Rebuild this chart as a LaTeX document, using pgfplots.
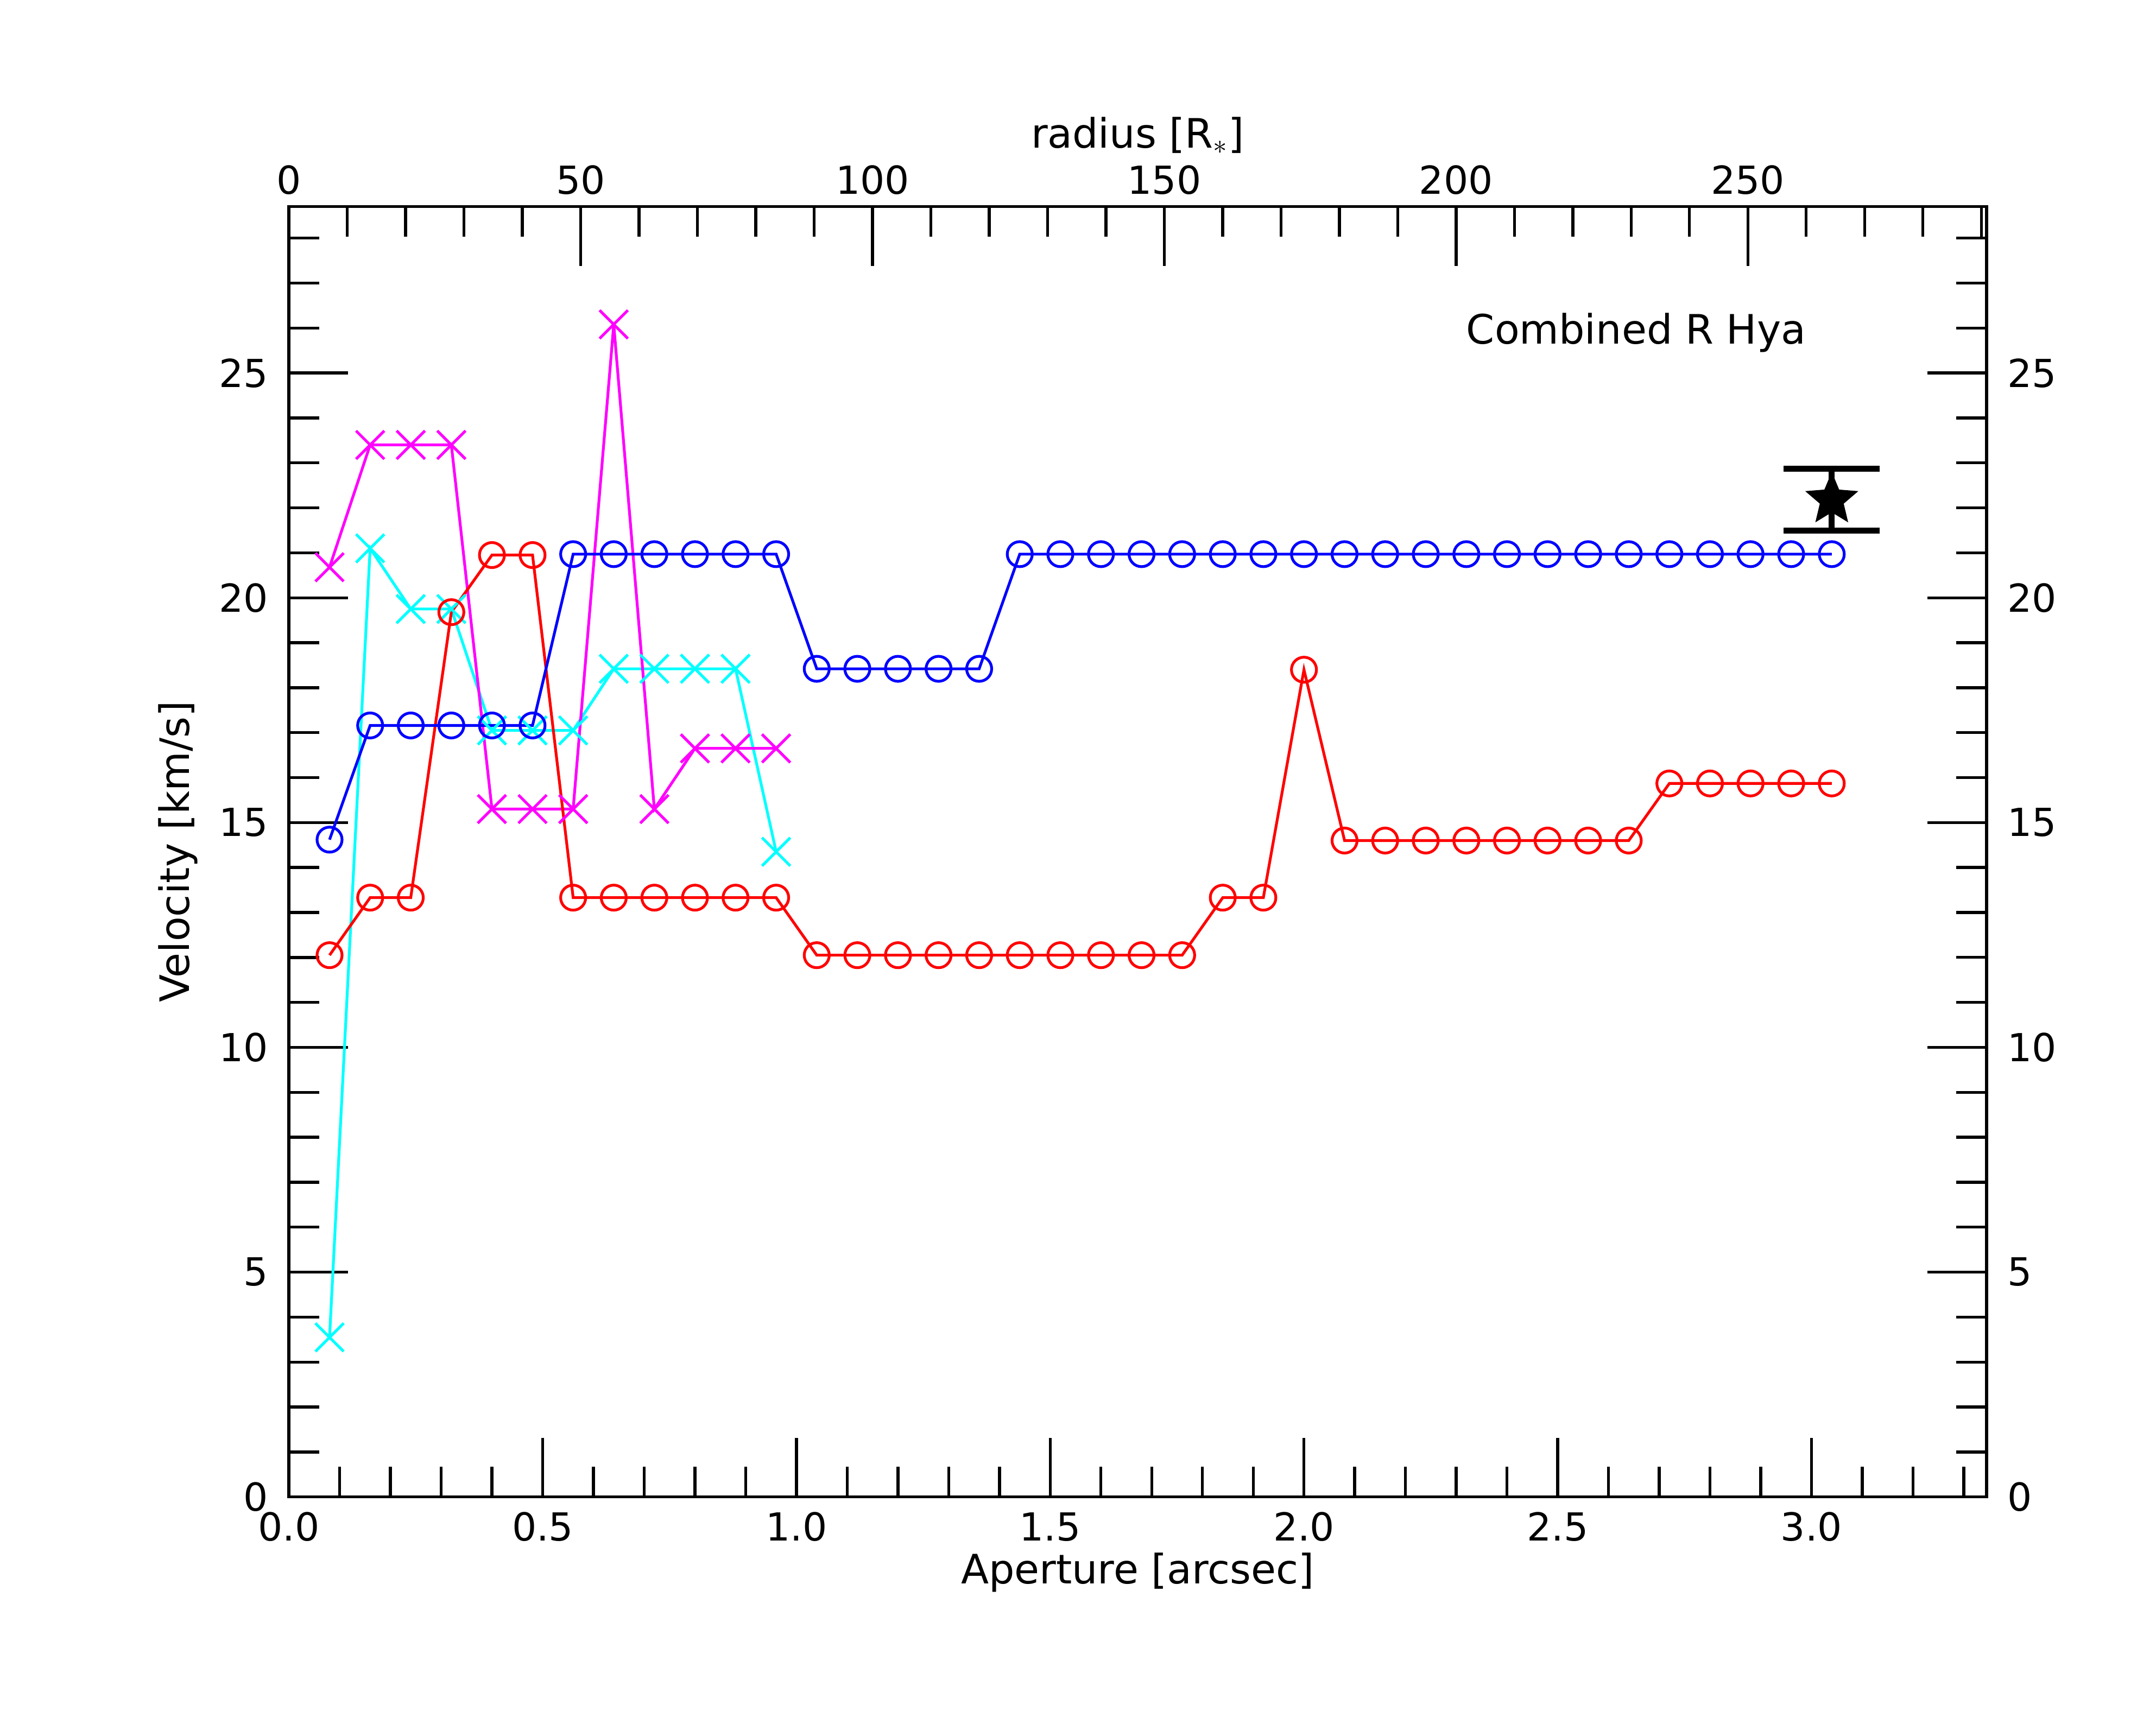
\documentclass[border=0pt]{standalone}
\usepackage{fontspec}
\setmainfont{DejaVu Sans}
\usepackage{pgfplots}
\pgfplotsset{compat=1.18}
\usetikzlibrary{plotmarks}

\definecolor{pcyan}{RGB}{0,255,255}
\definecolor{pmagenta}{RGB}{255,0,255}
\definecolor{pblue}{RGB}{0,0,255}
\definecolor{pred}{RGB}{255,0,0}

\pgfdeclareplotmark{fstar}{%
  \pgfpathmoveto{\pgfpointpolar{90}{\pgfplotmarksize}}%
  \pgfpathlineto{\pgfpointpolar{126}{0.45*\pgfplotmarksize}}%
  \pgfpathlineto{\pgfpointpolar{162}{\pgfplotmarksize}}%
  \pgfpathlineto{\pgfpointpolar{198}{0.45*\pgfplotmarksize}}%
  \pgfpathlineto{\pgfpointpolar{234}{\pgfplotmarksize}}%
  \pgfpathlineto{\pgfpointpolar{270}{0.45*\pgfplotmarksize}}%
  \pgfpathlineto{\pgfpointpolar{306}{\pgfplotmarksize}}%
  \pgfpathlineto{\pgfpointpolar{342}{0.45*\pgfplotmarksize}}%
  \pgfpathlineto{\pgfpointpolar{18}{\pgfplotmarksize}}%
  \pgfpathlineto{\pgfpointpolar{54}{0.45*\pgfplotmarksize}}%
  \pgfpathclose
  \pgfusepathqfillstroke}

\newcommand{\tickfont}{\fontsize{13.9}{16}\selectfont}
\newcommand{\labfont}{\fontsize{14.6}{17}\selectfont}

\pgfplotsset{
  common/.style={
    at={(104pt,81.6pt)}, anchor=south west,
    scale only axis, width=611pt, height=464.5pt,
    ymin=0, ymax=28.7,
    axis line style={line width=1.1pt},
    tick style={black, line width=1.05pt},
    major tick length=21.3pt, minor tick length=10.9pt,
    tick align=inside,
    /pgf/number format/assume math mode=true,
    ticklabel style={font=\tickfont},
    ytick={0,5,10,15,20,25},
    minor ytick={1,2,3,4,6,7,8,9,11,12,13,14,16,17,18,19,21,22,23,24,26,27,28},
  }
}

\begin{document}
\begin{tikzpicture}
\path[use as bounding box] (0,0) rectangle (776pt,620.5pt);

% top / right axis
\begin{axis}[common,
  xmin=0, xmax=290.9,
  xtick={0,50,100,150,200,250},
  minor xtick={10,20,30,40,60,70,80,90,110,120,130,140,160,170,180,190,210,220,230,240,260,270,280,290},
  xtick pos=right, ytick pos=right,
  xticklabel pos=right, yticklabel pos=right,
  xticklabel style={anchor=base, yshift=4.5pt},
  yticklabel style={anchor=west, xshift=4pt},
  xlabel={radius [R$_{\ast}$]},
  xlabel style={at={(axis description cs:0.5,1.0455)}, anchor=base, font=\labfont},
]
\end{axis}

% bottom / left axis with data
\begin{axis}[common,
  xmin=0, xmax=3.345,
  xtick={0,0.5,1.0,1.5,2.0,2.5,3.0},
  minor xtick={0.1,0.2,0.3,0.4,0.6,0.7,0.8,0.9,1.1,1.2,1.3,1.4,1.6,1.7,1.8,1.9,2.1,2.2,2.3,2.4,2.6,2.7,2.8,2.9,3.1,3.2,3.3},
  xtick pos=left, ytick pos=left,
  xticklabel style={anchor=base, yshift=-15.8pt, /pgf/number format/.cd, fixed, fixed zerofill, precision=1},
  yticklabel style={anchor=east, xshift=-4pt},
  xlabel={Aperture [arcsec]},
  xlabel style={at={(axis description cs:0.5,-0.0672)}, anchor=base, font=\labfont},
  ylabel={Velocity [km/s]},
  ylabel style={at={(axis description cs:-0.0586,0.5)}, anchor=base, font=\labfont},
  clip=false,
]
% cyan
\addplot[pcyan, line width=1pt, mark=x, mark size=7.2pt, mark options={line width=1pt}] coordinates {
(0.08,3.55)(0.16,21.10)(0.24,19.75)(0.32,19.75)(0.40,17.05)(0.48,17.05)(0.56,17.05)(0.64,18.42)(0.72,18.42)(0.80,18.42)(0.88,18.42)(0.96,14.35)
};
% magenta
\addplot[pmagenta, line width=1pt, mark=x, mark size=7.2pt, mark options={line width=1pt}] coordinates {
(0.08,20.68)(0.16,23.40)(0.24,23.40)(0.32,23.40)(0.40,15.30)(0.48,15.30)(0.56,15.30)(0.64,26.08)(0.72,15.30)(0.80,16.65)(0.88,16.65)(0.96,16.65)
};
% red
\addplot[pred, line width=1pt, mark=o, mark size=4.5pt, mark options={line width=1pt}] coordinates {
(0.08,12.05)(0.16,13.33)(0.24,13.33)(0.32,19.68)(0.40,20.95)(0.48,20.95)
(0.56,13.33)(0.64,13.33)(0.72,13.33)(0.80,13.33)(0.88,13.33)(0.96,13.33)
(1.04,12.05)(1.12,12.05)(1.20,12.05)(1.28,12.05)(1.36,12.05)(1.44,12.05)(1.52,12.05)(1.60,12.05)(1.68,12.05)(1.76,12.05)
(1.84,13.33)(1.92,13.33)(2.00,18.40)
(2.08,14.60)(2.16,14.60)(2.24,14.60)(2.32,14.60)(2.40,14.60)(2.48,14.60)(2.56,14.60)(2.64,14.60)
(2.72,15.87)(2.80,15.87)(2.88,15.87)(2.96,15.87)(3.04,15.87)
};
% blue
\addplot[pblue, line width=1pt, mark=o, mark size=4.5pt, mark options={line width=1pt}] coordinates {
(0.08,14.62)(0.16,17.16)(0.24,17.16)(0.32,17.16)(0.40,17.16)(0.48,17.16)
(0.56,20.97)(0.64,20.97)(0.72,20.97)(0.80,20.97)(0.88,20.97)(0.96,20.97)
(1.04,18.42)(1.12,18.42)(1.20,18.42)(1.28,18.42)(1.36,18.42)
(1.44,20.97)(1.52,20.97)(1.60,20.97)(1.68,20.97)(1.76,20.97)(1.84,20.97)(1.92,20.97)(2.00,20.97)(2.08,20.97)(2.16,20.97)(2.24,20.97)(2.32,20.97)(2.40,20.97)(2.48,20.97)(2.56,20.97)(2.64,20.97)(2.72,20.97)(2.80,20.97)(2.88,20.97)(2.96,20.97)(3.04,20.97)
};
% star with error bar
\addplot[black, line width=2.2pt, mark=fstar, mark size=9.4pt, mark options={solid, fill=black, line width=0.5pt},
  error bars/.cd, y dir=both, y explicit, error mark=|,
  error mark options={black, line width=2.2pt, mark size=17.3pt},
  error bar style={line width=2.2pt}]
  coordinates {(3.04,22.18) +- (0,0.69)};
\node[anchor=base west, font=\labfont, inner sep=0pt] at (axis cs:2.319,25.65) {Combined R Hya};
\end{axis}
\end{tikzpicture}
\end{document}
